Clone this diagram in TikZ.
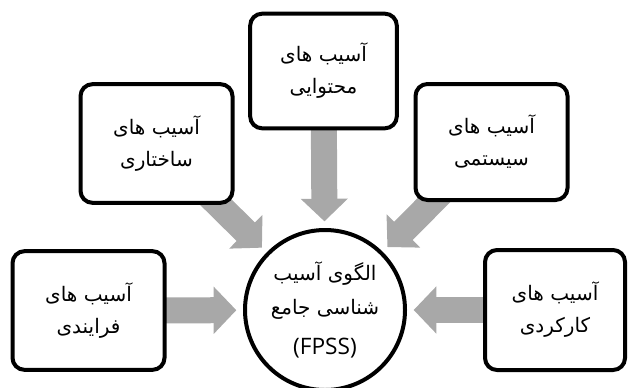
\documentclass[tikz,border=0pt]{standalone}
\usepackage{fontspec}
\setmainfont{Open Sans}
\newfontfamily\farsi[Script=Arabic]{DejaVu Sans}
\TeXXeTstate=1
\usetikzlibrary{arrows.meta,backgrounds}
\definecolor{arrowgray}{RGB}{168,168,168}

\begin{document}
\begin{tikzpicture}[x=0.75pt,y=0.75pt,
    harmbox/.style={draw,line width=3pt,rounded corners=9pt,fill=white,minimum width=114pt,minimum height=89pt,align=center,font=\farsi\fontsize{15}{24}\selectfont},
    hub/.style={draw,circle,line width=3pt,fill=white,minimum size=120pt,inner sep=0pt,align=center,font=\farsi\fontsize{15}{26}\selectfont},
    blockarrow/.style={draw=arrowgray,line width=19.5pt,-{Triangle[width=34.5pt,length=17pt]},shorten >=5pt,shorten <=-12pt}]
    \useasboundingbox (0,0) rectangle (630,387);
    % centre
    \node[hub] (fpss) at (325,77) {\beginR الگوی آسیب\endR\\\beginR شناسی جامع\endR\\[4pt]{\normalfont\fontsize{17}{20}\selectfont(FPSS)}};
    % the five kinds of harm
    \node[harmbox] (farayandi) at (88.5,76.5) {\beginR آسیب های\endR\\\beginR فرایندی\endR};
    \node[harmbox,minimum width=105pt,minimum height=90pt] (karkardi) at (555,77) {\beginR آسیب های\endR\\\beginR کارکردی\endR};
    \node[harmbox,minimum width=110pt,minimum height=86pt] (mohtavayi) at (323.5,316) {\beginR آسیب های\endR\\\beginR محتوایی\endR};
    \node[harmbox] (sakhtari) at (156.5,243.5) {\beginR آسیب های\endR\\\beginR ساختاری\endR};
    \node[harmbox,minimum height=87pt] (sistemi) at (491.5,245) {\beginR آسیب های\endR\\\beginR سیستمی\endR};
    \begin{scope}[on background layer]
        \draw[blockarrow] (farayandi) -- (fpss);
        \draw[blockarrow] (karkardi) -- (fpss);
        \draw[blockarrow] (mohtavayi) -- (fpss);
        \draw[blockarrow] (sakhtari) -- (fpss);
        \draw[blockarrow] (sistemi) -- (fpss);
    \end{scope}
\end{tikzpicture}
\end{document}
